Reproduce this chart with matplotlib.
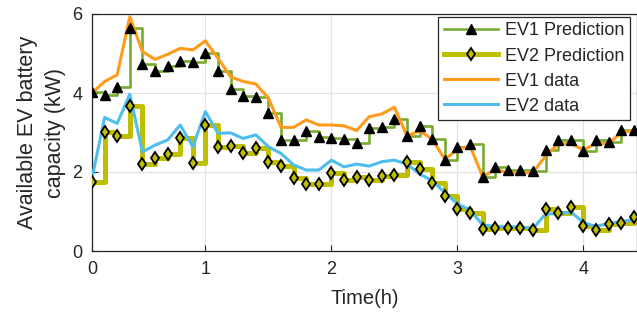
import matplotlib
matplotlib.use("Agg")
import matplotlib.pyplot as plt
from matplotlib.lines import Line2D
import numpy as np

plt.rcParams['font.family'] = ['Liberation Sans', 'DejaVu Sans']

steps = np.arange(1, 45)

ev1_pred = [4.03, 3.95, 4.14, 5.64, 4.73, 4.56, 4.68, 4.82, 4.79, 5.01,
            4.56, 4.10, 3.92, 3.89, 3.49, 2.81, 2.81, 3.04, 2.88, 2.85,
            2.84, 2.74, 3.11, 3.15, 3.33, 2.91, 3.16, 2.83, 2.30, 2.64,
            2.71, 1.87, 2.13, 2.05, 2.05, 2.03, 2.56, 2.80, 2.80, 2.53,
            2.80, 2.77, 3.06, 3.06]
ev1_data = [4.00, 4.29, 4.46, 5.93, 5.05, 4.85, 4.98, 5.13, 5.09, 5.32,
            4.88, 4.41, 4.29, 4.23, 3.87, 3.13, 3.13, 3.32, 3.19, 3.19,
            3.17, 3.05, 3.40, 3.47, 3.64, 2.91, 3.04, 2.83, 2.32, 2.57,
            2.66, 1.88, 2.07, 1.98, 1.98, 1.99, 2.41, 2.71, 2.72, 2.56,
            2.72, 2.72, 3.00, 3.05]
ev2_pred = [1.75, 3.02, 2.91, 3.67, 2.19, 2.35, 2.46, 2.85, 2.22, 3.18,
            2.64, 2.66, 2.49, 2.60, 2.26, 2.15, 1.84, 1.70, 1.70, 1.97,
            1.80, 1.87, 1.80, 1.90, 1.92, 2.26, 2.08, 1.73, 1.39, 1.06,
            0.95, 0.55, 0.57, 0.57, 0.57, 0.52, 1.06, 0.97, 1.11, 0.64,
            0.53, 0.69, 0.71, 0.85]
ev2_data = [1.84, 3.38, 3.23, 3.97, 2.51, 2.68, 2.81, 3.19, 2.64, 3.53,
            2.98, 2.99, 2.85, 2.94, 2.64, 2.47, 2.18, 2.05, 2.05, 2.30,
            2.13, 2.20, 2.15, 2.26, 2.30, 2.20, 1.95, 1.78, 1.48, 1.19,
            1.04, 0.66, 0.62, 0.61, 0.61, 0.57, 0.94, 0.94, 0.99, 0.72,
            0.62, 0.70, 0.74, 0.80]

tick_pos = [1, 10, 20, 30, 40]
tick_labels = ['0', '1', '2', '3', '4']

c_green = '#77AC30'
c_olive = '#BFBF00'
c_orange = '#FF9A1A'
c_blue = '#4DBEEE'

fig = plt.figure(figsize=(6.37, 3.21), dpi=100)
ax = fig.add_axes([92/637, 70/321, 545/637, 237/321])

ax.step(steps, ev1_pred, where='post', color=c_green, lw=1.9, zorder=2)
ax.step(steps, ev2_pred, where='post', color=c_olive, lw=3.6, zorder=2)
ax.plot(steps, ev1_data, color=c_orange, lw=2.2, zorder=3)
ax.plot(steps, ev2_data, color=c_blue, lw=2.2, zorder=3)
ax.plot(steps, ev1_pred, ls='none', marker='^', ms=7, mfc='black', mec='black', zorder=4)
ax.plot(steps, ev2_pred, ls='none', marker='d', ms=6, mfc=c_olive, mec='black', mew=1.3, zorder=4)

ax.set_xlim(1, 44.25)
ax.set_ylim(0, 6)
ax.set_xticks(tick_pos)
ax.set_xticklabels(tick_labels)
ax.set_yticks([0, 2, 4, 6])
ax.grid(True, color='#E3E3E3', lw=0.9)
ax.set_axisbelow(True)
ax.tick_params(direction='in', length=4, width=0.8, labelsize=13, colors='#262626', pad=7)
for s in ax.spines.values():
    s.set_color('#262626')
    s.set_linewidth(0.9)

ax.set_xlabel('Time(h)', fontsize=14.5, color='#262626', labelpad=8)
ax.set_ylabel('Available EV battery\ncapacity (kW)', fontsize=15.5, color='#262626',
              linespacing=1.45)
ax.yaxis.set_label_coords(-0.048, 0.5)

handles = [
    Line2D([], [], color=c_green, lw=1.9, marker='^', ms=7, mfc='black', mec='black'),
    Line2D([], [], color=c_olive, lw=3.6, marker='d', ms=6, mfc=c_olive, mec='black', mew=1.3),
    Line2D([], [], color=c_orange, lw=2.2),
    Line2D([], [], color=c_blue, lw=2.2),
]
labels = ['EV1 Prediction', 'EV2 Prediction', 'EV1 data', 'EV2 data']
leg = ax.legend(handles, labels, loc='upper right', bbox_to_anchor=(538/545, 234/237),
                fontsize=13, frameon=True, fancybox=False, edgecolor='#262626',
                framealpha=1, borderpad=0.3, labelspacing=0.45, handlelength=3.0,
                handletextpad=0.4, borderaxespad=0)
leg.get_frame().set_linewidth(0.9)
for t in leg.get_texts():
    t.set_color('#262626')

fig.savefig('out.png', dpi=100)
